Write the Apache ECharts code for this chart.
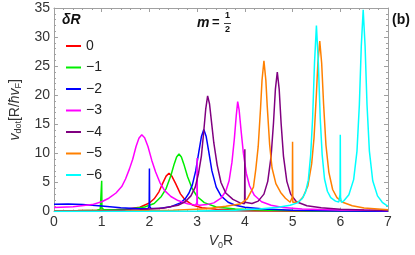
<!DOCTYPE html>
<html><head><meta charset="utf-8">
<script src="https://cdn.jsdelivr.net/npm/echarts@6/dist/echarts.min.js"></script>
<style>html,body{margin:0;padding:0;background:#fff}#c{width:415px;height:255px}</style>
</head><body><div id="c"></div>
<script>
const seriesNames = ['0','−1','−2','−3','−4','−5','−6'];
const seriesColors = ['#ff0000','#00ee00','#0000ff','#ff00ff','#800080','#ff8000','#00ffff'];

const red0 = [[0,0.15],[0.5,0.18],[1,0.22],[1.5,0.4],[1.8,0.75],[2.0,1.48],[2.1,2.2],[2.2,3.4],[2.28,4.9],[2.35,6.1],[2.41,6.6],[2.47,6.1],[2.55,4.8],[2.65,3.05],[2.75,2.0],[2.9,1.15],[3.1,0.65],[3.4,0.4],[4,0.2],[5,0.1],[6,0.07],[7,0.05]];
const green1 = [[0,0.1],[0.5,0.15],[0.9,0.25],[0.97,0.4],[0.995,0.6],[1.0,5.3],[1.005,0.6],[1.05,0.3],[1.3,0.3],[1.6,0.45],[1.9,0.8],[2.1,1.4],[2.25,2.6],[2.35,3.96],[2.45,6.2],[2.52,8.2],[2.57,9.4],[2.62,9.9],[2.67,9.4],[2.72,8.2],[2.8,6.0],[2.9,3.9],[3.0,2.6],[3.15,1.55],[3.4,0.8],[3.8,0.45],[4.5,0.22],[5.5,0.12],[7,0.07]];
const blue2 = [[0,1.25],[0.3,1.32],[0.6,1.22],[1.0,0.95],[1.4,0.68],[1.8,0.5],[1.97,0.5],[1.995,0.9],[2.0,7.4],[2.005,0.9],[2.03,0.55],[2.2,0.55],[2.45,0.85],[2.65,1.5],[2.75,2.2],[2.83,3.2],[2.9,4.6],[2.97,7.0],[3.04,10.5],[3.09,12.9],[3.14,14.1],[3.19,12.9],[3.24,10.5],[3.31,7.0],[3.4,4.2],[3.5,2.7],[3.65,1.6],[3.8,1.1],[4.0,0.75],[4.4,0.45],[5,0.25],[6,0.12],[7,0.08]];
const magenta3 = [[0,0.7],[0.4,0.85],[0.8,1.2],[1.0,1.7],[1.15,2.3],[1.3,3.2],[1.42,4.3],[1.5,5.6],[1.58,7.3],[1.65,9.0],[1.72,11.2],[1.78,12.6],[1.84,13.2],[1.9,12.7],[1.97,11.2],[2.05,8.8],[2.13,6.8],[2.22,5.0],[2.32,3.6],[2.45,2.6],[2.6,1.9],[2.8,1.35],[2.97,1.1],[2.995,1.6],[3.0,9.2],[3.005,1.2],[3.05,1.1],[3.2,1.2],[3.35,1.5],[3.5,2.3],[3.6,3.5],[3.67,5.3],[3.73,8.5],[3.78,12.5],[3.82,16.5],[3.85,18.9],[3.88,17.5],[3.92,14.0],[3.97,10.0],[4.03,6.6],[4.1,4.4],[4.2,2.8],[4.35,1.7],[4.55,1.1],[4.8,0.7],[5.2,0.45],[6,0.28],[7,0.18]];
const purple4 = [[0,0.1],[1,0.15],[1.8,0.3],[2.3,0.6],[2.6,1.1],[2.75,1.7],[2.87,2.7],[2.96,4.2],[3.03,6.6],[3.09,9.6],[3.13,13.0],[3.18,17.6],[3.22,19.9],[3.26,18.5],[3.3,15.5],[3.35,11.8],[3.42,8.0],[3.5,5.0],[3.6,3.2],[3.75,2.1],[3.9,1.5],[3.99,1.35],[3.995,2.0],[4.0,10.7],[4.005,1.6],[4.03,1.3],[4.15,1.4],[4.28,1.8],[4.4,3.0],[4.48,5.2],[4.55,9.5],[4.6,15.2],[4.64,21.0],[4.68,24.0],[4.72,21.0],[4.76,15.2],[4.81,9.5],[4.88,5.2],[4.96,3.0],[5.08,1.7],[5.3,1.0],[5.6,0.65],[6.0,0.42],[6.5,0.28],[7,0.2]];
const orange5 = [[0,0.05],[1.5,0.1],[2.5,0.25],[3.2,0.5],[3.6,0.9],[3.9,1.3],[4.05,2.2],[4.18,4.2],[4.23,7.3],[4.28,11.2],[4.33,17.9],[4.36,22.6],[4.4,25.9],[4.44,22.6],[4.47,18.0],[4.52,11.5],[4.57,7.5],[4.65,4.8],[4.75,3.3],[4.85,2.3],[4.95,1.6],[4.99,1.5],[4.995,2.5],[5.0,12.0],[5.005,1.6],[5.03,1.4],[5.12,1.6],[5.22,2.5],[5.32,4.4],[5.4,8.2],[5.45,12.7],[5.5,20.3],[5.53,25.5],[5.57,29.3],[5.61,25.5],[5.65,18.5],[5.7,11.4],[5.76,6.8],[5.84,3.8],[5.93,2.4],[6.05,1.6],[6.25,1.0],[6.5,0.6],[7,0.32]];
const cyan6 = [[0,0.02],[2,0.05],[3,0.1],[3.8,0.25],[4.3,0.45],[4.7,0.75],[4.95,1.1],[5.1,1.5],[5.2,2.2],[5.27,3.3],[5.33,5.4],[5.38,9.8],[5.42,16.0],[5.46,25.6],[5.5,32.0],[5.54,25.6],[5.58,16.0],[5.62,9.8],[5.67,5.6],[5.73,3.5],[5.8,2.4],[5.9,1.8],[5.97,1.65],[5.995,3.0],[6.0,13.2],[6.005,2.5],[6.025,1.6],[6.08,1.9],[6.18,2.9],[6.28,5.5],[6.35,10.4],[6.4,18.4],[6.44,28.4],[6.48,34.7],[6.52,28.4],[6.56,18.4],[6.61,10.4],[6.68,5.3],[6.78,2.7],[6.88,1.6],[7,0.9]];

const seriesData = [red0, green1, blue2, magenta3, purple4, orange5, cyan6];
const FONT = '"Liberation Sans", Arial, sans-serif';
const FRAME = '#a0a0a0';
const LBL = '#333';

function mkAxis(pos, min, max, interval, showLabels, extra) {
  return Object.assign({
    type: 'value', min: min, max: max, interval: interval, position: pos,
    axisLine: {show: true, onZero: false, lineStyle: {color: FRAME, width: 1}},
    axisTick: {show: true, inside: true, length: 4, lineStyle: {color: FRAME}},
    minorTick: {show: true, splitNumber: 5, length: 2, lineStyle: {color: FRAME}},
    splitLine: {show: false}, minorSplitLine: {show: false},
    axisLabel: {show: showLabels, margin: 4, fontSize: 14, color: LBL, fontFamily: FONT}
  }, extra || {});
}

const chart = echarts.init(document.getElementById('c'), null, {renderer: 'canvas'});
const option = {
  animation: false,
  backgroundColor: '#fff',
  grid: {left: 53, right: 27, top: 8, bottom: 40},
  xAxis: [
    mkAxis('bottom', 0, 7, 1, true, {
      name: '{i|V}{s|0}R', nameLocation: 'middle', nameGap: 19,
      nameTextStyle: {fontFamily: FONT, fontSize: 14, color: LBL, rich: {
        i: {fontStyle: 'italic', fontSize: 14, fontFamily: FONT, color: LBL},
        s: {fontSize: 9, fontFamily: FONT, color: LBL, verticalAlign: 'bottom', padding: [8, 0, 0, 0]}
      }}
    }),
    mkAxis('top', 0, 7, 1, false)
  ],
  yAxis: [
    mkAxis('left', 0, 35, 5, true, {
      axisLabel: {margin: 4, fontSize: 14, color: LBL, fontFamily: FONT},
      name: '{i|v}{s|dot}[R/{i|ħv}{s|F}]', nameLocation: 'middle', nameGap: 20,
      nameTextStyle: {fontFamily: FONT, fontSize: 14, color: LBL, rich: {
        i: {fontStyle: 'italic', fontSize: 14, fontFamily: FONT, color: LBL},
        s: {fontSize: 9, fontFamily: FONT, color: LBL, verticalAlign: 'bottom', padding: [8, 0, 0, 0]}
      }}
    }),
    mkAxis('right', 0, 35, 5, false)
  ],
  legend: {
    orient: 'vertical', left: 61, top: 34, itemWidth: 15, itemHeight: 2, itemGap: 7.5,
    icon: 'rect',
    textStyle: {fontSize: 14, color: '#222', fontFamily: FONT, lineHeight: 14},
    data: seriesNames
  },
  graphic: [
    {type: 'text', left: 62, top: 13, style: {text: 'δR', font: 'bold italic 14px "Liberation Sans", Arial', fill: '#111'}},
    {type: 'text', left: 392, top: 13, style: {text: '(b)', font: 'bold 14px "Liberation Sans", Arial', fill: '#111'}},
    {type: 'text', left: 197, top: 16, style: {text: 'm', font: 'bold italic 14px "Liberation Sans", Arial', fill: '#111'}},
    {type: 'text', left: 212, top: 16, style: {text: '=', font: 'bold 13px "Liberation Sans", Arial', fill: '#111'}},
    {type: 'text', left: 225, top: 11, style: {text: '1', font: 'bold 9px "Liberation Sans", Arial', fill: '#111'}},
    {type: 'line', shape: {x1: 224, y1: 23.5, x2: 231, y2: 23.5}, style: {stroke: '#111', lineWidth: 0.8}},
    {type: 'text', left: 225, top: 25, style: {text: '2', font: 'bold 9px "Liberation Sans", Arial', fill: '#111'}}
  ],
  series: seriesNames.map((n, k) => ({
    name: n, type: 'line', data: seriesData[k], xAxisIndex: 0, yAxisIndex: 0,
    symbol: 'none', showSymbol: false, smooth: false,
    lineStyle: {color: seriesColors[k], width: 1.5}, itemStyle: {color: seriesColors[k]},
    z: 2 + k
  }))
};
chart.setOption(option);
</script></body></html>
